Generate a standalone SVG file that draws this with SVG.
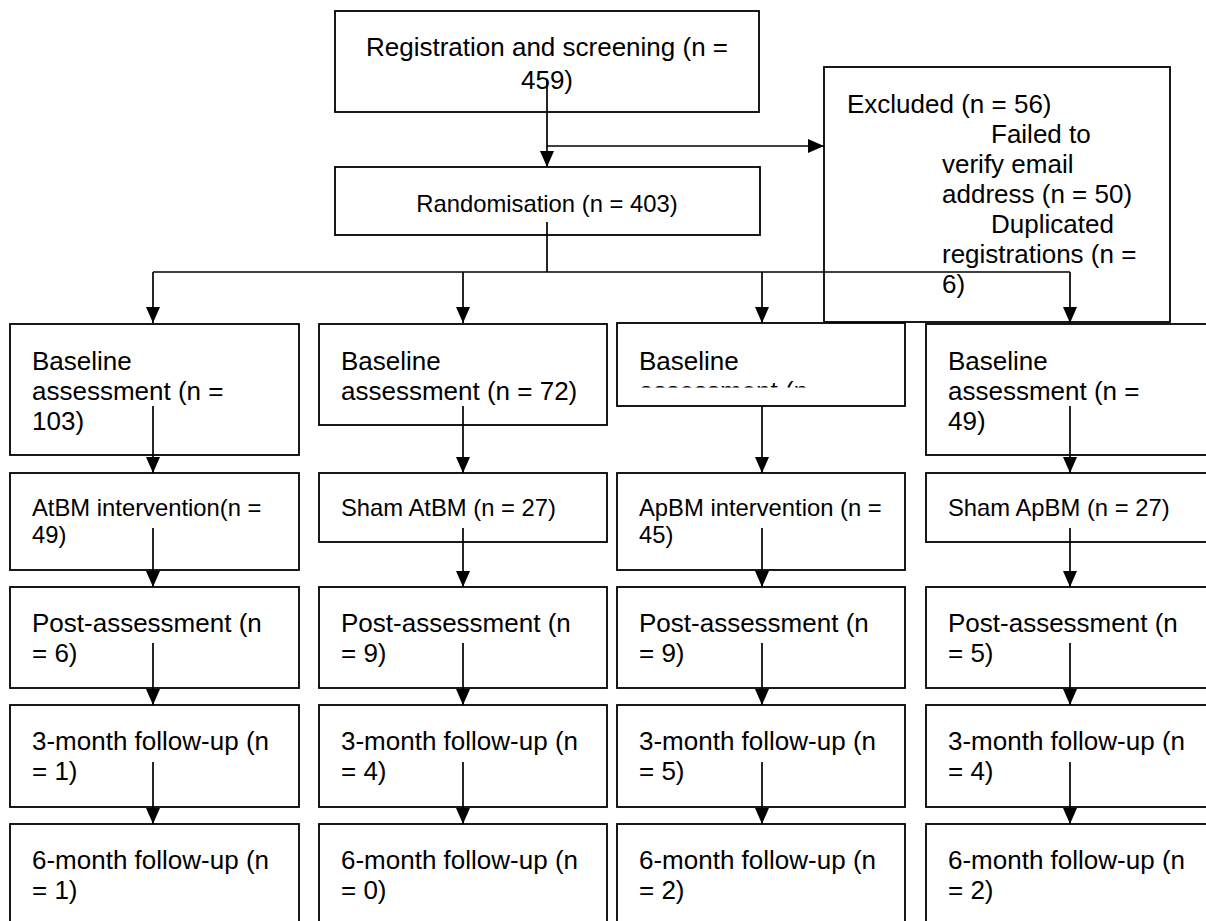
<svg xmlns="http://www.w3.org/2000/svg" width="1206" height="921" viewBox="0 0 1206 921">
<style>
.box{fill:#fff;stroke:#000;stroke-width:1.8}
.t{font-family:"Liberation Sans",Arial,sans-serif;font-size:26px;fill:#000}
.s{font-family:"Liberation Sans",Arial,sans-serif;font-size:23.8px;fill:#000}
.c{text-anchor:middle}
.ln{fill:none;stroke:#000;stroke-width:1.7}
</style>
<defs>
<marker id="ah" viewBox="0 0 16 14" refX="16" refY="7" markerWidth="16" markerHeight="14" markerUnits="userSpaceOnUse" orient="auto">
<path d="M0,0 L16,7 L0,14 z" fill="#000"/>
</marker>
<clipPath id="clip3"><rect x="617" y="360" width="288" height="27.5"/></clipPath>
</defs>
<rect width="1206" height="921" fill="#fff"/>

<g id="registration">
<rect class="box" x="335" y="11" width="424" height="101"/>
<text class="t c" x="547" y="56">Registration and screening (n =</text>
<text class="t c" x="547" y="89">459)</text>
</g>

<g id="randomisation">
<rect class="box" x="335" y="167" width="425" height="68"/>
<text class="s c" x="547" y="212">Randomisation (n = 403)</text>
</g>

<g id="excluded">
<rect class="box" x="824" y="67" width="346" height="255"/>
<text class="t" x="847" y="113">Excluded (n = 56)</text>
<text class="t" x="991" y="143">Failed to</text>
<text class="t" x="942" y="173">verify email</text>
<text class="t" x="942" y="203">address (n = 50)</text>
<text class="t" x="991" y="233">Duplicated</text>
<text class="t" x="942" y="263">registrations (n =</text>
<text class="t" x="942" y="293">6)</text>
</g>

<!-- Column 1 -->
<g id="baseline1">
<rect class="box" x="10" y="324" width="289" height="131"/>
<text class="t" x="32" y="370">Baseline</text>
<text class="t" x="32" y="400">assessment (n =</text>
<text class="t" x="32" y="430">103)</text>
</g>
<g id="atbm">
<rect class="box" x="10" y="473" width="289" height="97"/>
<text class="s" x="32" y="516">AtBM intervention(n =</text>
<text class="s" x="32" y="543">49)</text>
</g>
<g id="post1">
<rect class="box" x="10" y="587" width="289" height="101"/>
<text class="t" x="32" y="632">Post-assessment (n</text>
<text class="t" x="32" y="662">= 6)</text>
</g>
<g id="m3_1">
<rect class="box" x="10" y="705" width="289" height="102"/>
<text class="t" x="32" y="750">3-month follow-up (n</text>
<text class="t" x="32" y="780">= 1)</text>
</g>
<g id="m6_1">
<rect class="box" x="10" y="824" width="289" height="110"/>
<text class="t" x="32" y="869">6-month follow-up (n</text>
<text class="t" x="32" y="899">= 1)</text>
</g>

<!-- Column 2 -->
<g id="baseline2">
<rect class="box" x="319" y="324" width="288" height="101"/>
<text class="t" x="341" y="370">Baseline</text>
<text class="t" x="341" y="400">assessment (n = 72)</text>
</g>
<g id="shamatbm">
<rect class="box" x="319" y="473" width="288" height="69"/>
<text class="s" x="341" y="516">Sham AtBM (n = 27)</text>
</g>
<g id="post2">
<rect class="box" x="319" y="587" width="288" height="101"/>
<text class="t" x="341" y="632">Post-assessment (n</text>
<text class="t" x="341" y="662">= 9)</text>
</g>
<g id="m3_2">
<rect class="box" x="319" y="705" width="288" height="102"/>
<text class="t" x="341" y="750">3-month follow-up (n</text>
<text class="t" x="341" y="780">= 4)</text>
</g>
<g id="m6_2">
<rect class="box" x="319" y="824" width="288" height="110"/>
<text class="t" x="341" y="869">6-month follow-up (n</text>
<text class="t" x="341" y="899">= 0)</text>
</g>

<!-- Column 3 -->
<g id="baseline3">
<rect class="box" x="617" y="323" width="288" height="83"/>
<text class="t" x="639" y="370">Baseline</text>
<text class="t" x="639" y="400" clip-path="url(#clip3)">assessment (n</text>
</g>
<g id="apbm">
<rect class="box" x="617" y="473" width="288" height="97"/>
<text class="s" x="639" y="516">ApBM intervention (n =</text>
<text class="s" x="639" y="543">45)</text>
</g>
<g id="post3">
<rect class="box" x="617" y="587" width="288" height="101"/>
<text class="t" x="639" y="632">Post-assessment (n</text>
<text class="t" x="639" y="662">= 9)</text>
</g>
<g id="m3_3">
<rect class="box" x="617" y="705" width="288" height="102"/>
<text class="t" x="639" y="750">3-month follow-up (n</text>
<text class="t" x="639" y="780">= 5)</text>
</g>
<g id="m6_3">
<rect class="box" x="617" y="824" width="288" height="110"/>
<text class="t" x="639" y="869">6-month follow-up (n</text>
<text class="t" x="639" y="899">= 2)</text>
</g>

<!-- Column 4 -->
<g id="baseline4">
<rect class="box" x="926" y="324" width="290" height="131"/>
<text class="t" x="948" y="370">Baseline</text>
<text class="t" x="948" y="400">assessment (n =</text>
<text class="t" x="948" y="430">49)</text>
</g>
<g id="shamapbm">
<rect class="box" x="926" y="473" width="290" height="69"/>
<text class="s" x="948" y="516">Sham ApBM (n = 27)</text>
</g>
<g id="post4">
<rect class="box" x="926" y="587" width="290" height="101"/>
<text class="t" x="948" y="632">Post-assessment (n</text>
<text class="t" x="948" y="662">= 5)</text>
</g>
<g id="m3_4">
<rect class="box" x="926" y="705" width="290" height="102"/>
<text class="t" x="948" y="750">3-month follow-up (n</text>
<text class="t" x="948" y="780">= 4)</text>
</g>
<g id="m6_4">
<rect class="box" x="926" y="824" width="290" height="110"/>
<text class="t" x="948" y="869">6-month follow-up (n</text>
<text class="t" x="948" y="899">= 2)</text>
</g>

<g id="connectors">
<path class="ln" d="M547,80 V167" marker-end="url(#ah)"/>
<path class="ln" d="M547,146 H824" marker-end="url(#ah)"/>
<path class="ln" d="M547,222 V272"/>
<path class="ln" d="M153,272 H1070"/>
<path class="ln" d="M153,272 V323" marker-end="url(#ah)"/>
<path class="ln" d="M463,272 V323" marker-end="url(#ah)"/>
<path class="ln" d="M762,272 V323" marker-end="url(#ah)"/>
<path class="ln" d="M1070,272 V323" marker-end="url(#ah)"/>

<path class="ln" d="M153,406 V473" marker-end="url(#ah)"/>
<path class="ln" d="M153,528 V587" marker-end="url(#ah)"/>
<path class="ln" d="M153,643 V705" marker-end="url(#ah)"/>
<path class="ln" d="M153,762 V824" marker-end="url(#ah)"/>

<path class="ln" d="M463,406 V473" marker-end="url(#ah)"/>
<path class="ln" d="M463,528 V587" marker-end="url(#ah)"/>
<path class="ln" d="M463,643 V705" marker-end="url(#ah)"/>
<path class="ln" d="M463,762 V824" marker-end="url(#ah)"/>

<path class="ln" d="M762,406 V473" marker-end="url(#ah)"/>
<path class="ln" d="M762,528 V587" marker-end="url(#ah)"/>
<path class="ln" d="M762,643 V705" marker-end="url(#ah)"/>
<path class="ln" d="M762,762 V824" marker-end="url(#ah)"/>

<path class="ln" d="M1070,406 V473" marker-end="url(#ah)"/>
<path class="ln" d="M1070,528 V587" marker-end="url(#ah)"/>
<path class="ln" d="M1070,643 V705" marker-end="url(#ah)"/>
<path class="ln" d="M1070,762 V824" marker-end="url(#ah)"/>
</g>
</svg>
